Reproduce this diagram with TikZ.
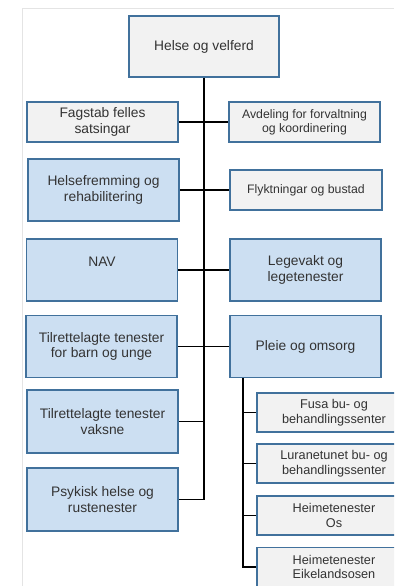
\documentclass[tikz,border=0pt]{standalone}
\usepackage{fontspec}
\setmainfont{Liberation Sans}
\usepackage{tikz}
\usetikzlibrary{positioning}
\definecolor{boxblue}{HTML}{CCDFF2}
\definecolor{boxgrey}{HTML}{F2F2F2}
\definecolor{edgeblue}{HTML}{41719C}
\definecolor{textgrey}{HTML}{333333}
\definecolor{framegrey}{HTML}{E4E4E4}

\begin{document}
\begin{tikzpicture}[x=1pt, y=-1pt,
    unit/.style = {draw=edgeblue, line width=1.6pt, fill=boxblue, text=textgrey, align=center, inner sep=0pt, minimum width=151pt, minimum height=62pt, font=\fontsize{13.8}{15.5}\selectfont},
    staff/.style = {unit, fill=boxgrey, minimum height=40pt, font=\fontsize{12.3}{14}\selectfont},
    sub/.style = {unit, fill=boxgrey, minimum width=154pt, minimum height=39pt, font=\fontsize{12.7}{14.5}\selectfont},
    link/.style = {line width=1.8pt, black}]
					\clip (0,0) rectangle (394,586);
					\fill[white] (0,0) rectangle (394,586);
					\draw[framegrey, line width=1pt] (22,586) -- (22,9) -- (394,9);

					\node[unit, minimum width=150pt, minimum height=61pt, fill=boxgrey] (helse) at (204,46.5) {Helse og velferd};
					\node[unit, fill=boxgrey, minimum height=40pt] (fagstab) at (102.5,122) {Fagstab felles\\satsingar};
					\node[staff] (avdeling) at (304.5,122) {Avdeling for forvaltning\\og koordinering};
					\node[unit] (helsefr) at (103.5,190) {Helsefremming og\\rehabilitering};
					\node[staff, minimum width=152pt] (flykt) at (306,190) {Flyktningar og bustad};
					\node[unit] (nav) at (102,270) {NAV\\\mbox{}};
					\node[unit] (legevakt) at (305.5,270) {Legevakt og\\legetenester};
					\node[unit] (tilbarn) at (101.5,346.5) {Tilrettelagte tenester\\for barn og unge};
					\node[unit] (pleie) at (305.5,346.5) {Pleie og omsorg};
					\node[unit, minimum height=63pt] (vaksne) at (102.5,421.5) {Tilrettelagte tenester\\vaksne};
					\node[unit, minimum height=63pt] (psykisk) at (102.5,499.5) {Psykisk helse og\\rustenester};

					% Pleie og omsorg
					\node[sub] (fusa) at (334,412.5) {Fusa bu- og\\behandlingssenter};
					\node[sub] (lurane) at (334,463.5) {Luranetunet bu- og\\behandlingssenter};
					\node[sub] (os) at (334,515.5) {Heimetenester\\Os};
					\node[sub] (eik) at (334,567) {Heimetenester\\Eikelandsosen};
					\coordinate (pleiefoot) at (243,346.5 |- pleie.south);

					\draw[link] (helse.south) |- (psykisk.east);
					\draw[link] (fagstab.east) -- (avdeling.west);
					\draw[link] (helsefr.east) -- (flykt.west);
					\draw[link] (nav.east) -- (legevakt.west);
					\draw[link] (tilbarn.east) -- (pleie.west);
					\draw[link] (vaksne.east) -- (vaksne.east -| helse.south);
					\draw[link] (pleiefoot) |- (eik.west);
					\draw[link] (fusa.west) -- (fusa.west -| pleiefoot);
					\draw[link] (lurane.west) -- (lurane.west -| pleiefoot);
					\draw[link] (os.west) -- (os.west -| pleiefoot);
\end{tikzpicture}
\end{document}
